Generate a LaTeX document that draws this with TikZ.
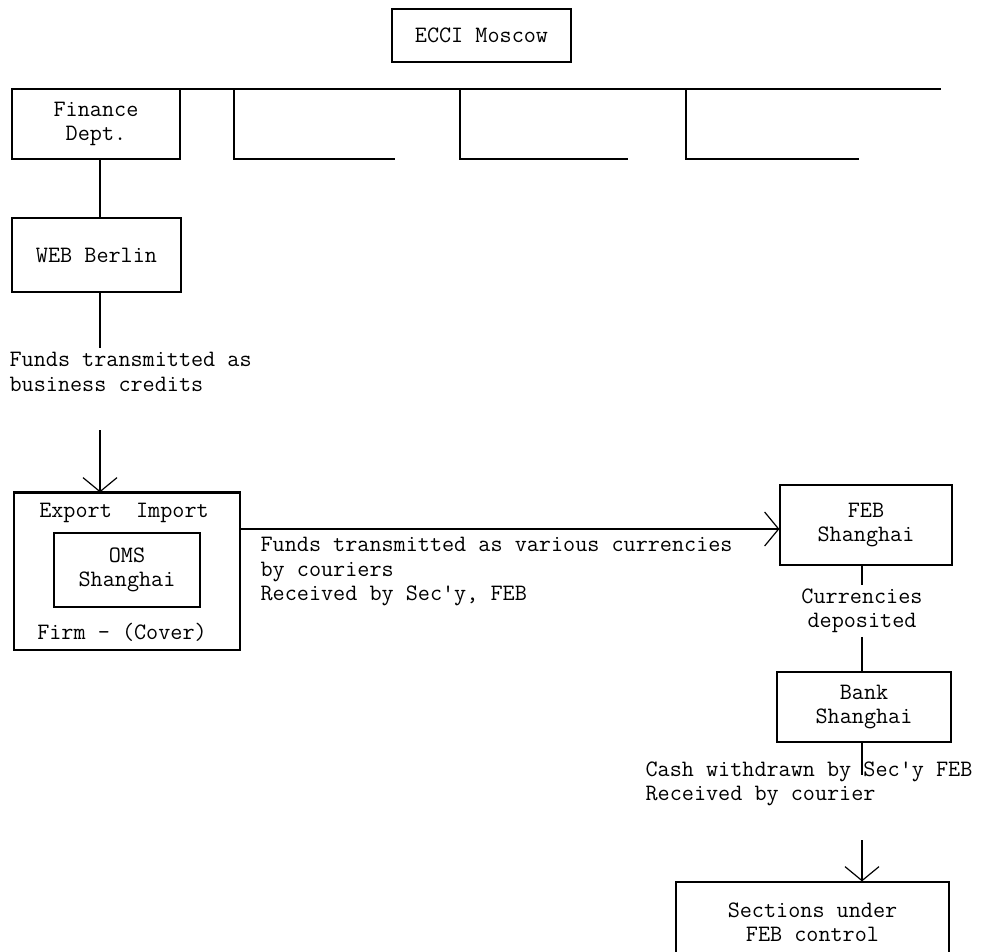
\documentclass[tikz,border=0pt]{standalone}
\usepackage{fontspec}
\usetikzlibrary{arrows.meta}
\tikzset{
  box/.style={draw, line width=1.2pt, align=center, inner sep=0pt},
  lbl/.style={align=left, inner sep=0pt},
  arr/.style={-{Straight Barb[length=14pt,width=34pt,line width=1.2pt]}},
}
\begin{document}
\begin{tikzpicture}[x=1pt, y=-1pt, line width=1.2pt, font=\ttfamily\fontsize{23.5}{24.5}\selectfont]
    \useasboundingbox (0,0) rectangle (990,951);

    % --- Top: ECCI and the departments bar ---
    \node[box, minimum width=179pt, minimum height=53pt] (ecci) at (481.5,35.5) {ECCI Moscow};

    \coordinate (barL) at (12,89);
    \coordinate (barR) at (941,89);
    \draw (barL) -- (barR);

    \node[box, minimum width=168pt, minimum height=70pt] (finance) at (96,124) {Finance\\Dept.};

    % empty departments (open brackets)
    \foreach \x/\e [count=\i] in {234/395, 460/628, 686/859} {
        \coordinate (s\i) at (\x,89);
        \coordinate (t\i) at (\e,159);
        \draw (s\i) |- (t\i);
    }

    % --- Left branch: Berlin ---
    \node[box, minimum width=169pt, minimum height=74pt] (web) at (96.5,255) {WEB Berlin};
    \coordinate (f1) at (100,159);
    \draw (f1) -- (f1 |- web.north);

    \coordinate (w1) at (100,348);
    \draw (w1 |- web.south) -- (w1);
    \node[lbl, anchor=north west] (credits) at (9,352) {Funds transmitted as\\business credits};

    % Export/Import firm with OMS inside
    \node[box, minimum width=226pt, minimum height=157pt] (export) at (127,571.5) {};
    \draw[line width=2.2pt] (export.north west) -- (export.north east);
    \node (expimp) at (124,513) {Export\ \ Import};
    \node[box, minimum width=146pt, minimum height=74pt] (oms) at (127,570) {OMS\\Shanghai};
    \node (firm) at (122,632) {Firm - (Cover)};

    \coordinate (a1) at (100,430);
    \draw[arr] (a1) -- (a1 |- export.north);

    % --- Across to Shanghai ---
    \node[box, minimum width=172pt, minimum height=80pt] (feb) at (866,525) {FEB\\Shanghai};
    \coordinate (h1) at (240,529);
    \draw[arr] (h1) -- (h1 -| feb.west);
    \node[lbl, anchor=north west] (various) at (260,537) {Funds transmitted as various currencies\\by couriers\\Received by Sec'y, FEB};

    % --- Right branch: bank and sections ---
    \node[align=center, inner sep=3pt] (deposit) at (862,611) {Currencies\\deposited};
    \node[box, minimum width=174pt, minimum height=70pt] (bank) at (864,707) {Bank\\Shanghai};
    \draw (deposit.north |- feb.south) -- (deposit.north);
    \draw (deposit.south) -- (deposit.south |- bank.north);

    \coordinate (c1) at (862,775);
    \draw (c1 |- bank.south) -- (c1);
    \node[lbl, anchor=west] (cash) at (645,784) {Cash withdrawn by Sec'y FEB\\Received by courier};

    \node[box, minimum width=273pt, minimum height=80pt] (sections) at (812.5,922) {Sections under\\FEB control};
    \coordinate (a2) at (862,840);
    \draw[arr] (a2) -- (a2 |- sections.north);
\end{tikzpicture}
\end{document}
